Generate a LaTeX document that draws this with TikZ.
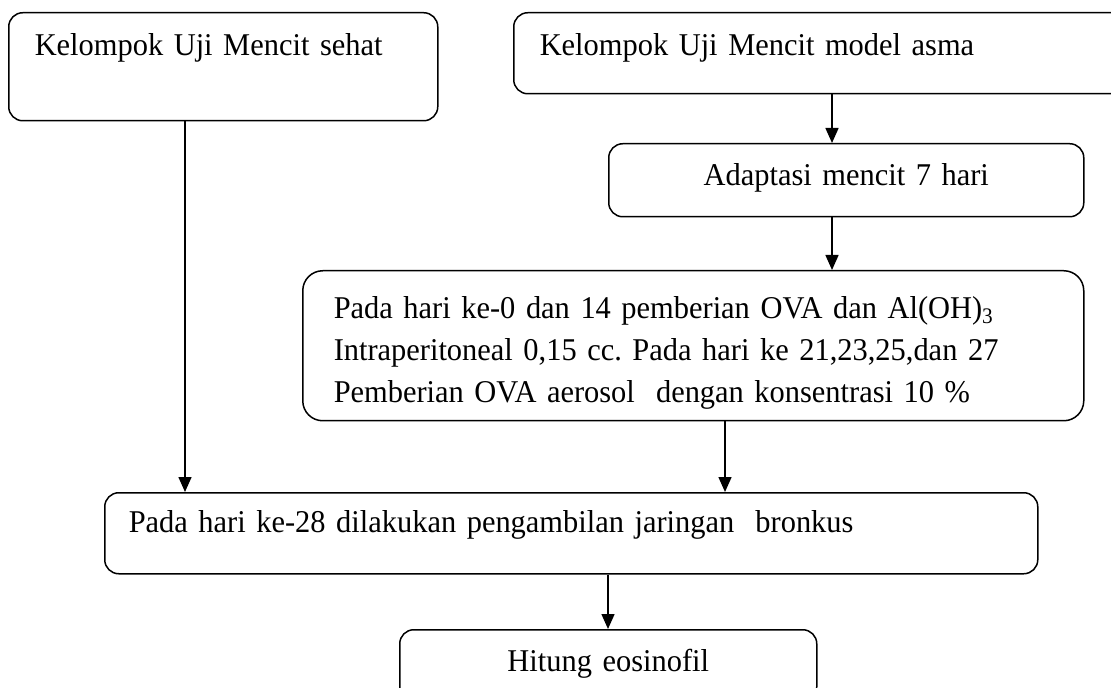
\documentclass[tikz,border=0pt]{standalone}
\usepackage{fontspec}
\setmainfont{Liberation Serif}[FakeStretch=0.96]
\frenchspacing
\usepackage{tikz}
\usetikzlibrary{arrows.meta}

\tikzset{
    kotak/.style={draw, line width=0.75pt, rounded corners=7pt, anchor=north west,
        inner ysep=0pt, inner xsep=13pt, font=\fontsize{15.85pt}{21pt}\selectfont},
    panah/.style={-{Triangle[width=6.5pt,length=7.5pt]}, line width=0.75pt}
}

\begin{document}
\begin{tikzpicture}[x=0.5pt, y=-0.5pt]
                \useasboundingbox (0,0) rectangle (1111,688);
                % kotak
                \node [kotak, text width=188.5pt, text height=21.5pt, text depth=32.5pt] (sehat) at (8,12) {Kelompok Uji Mencit sehat};
                \node [kotak, text width=280pt, text height=21.5pt, text depth=19pt] (asma) at (513,12) {Kelompok Uji Mencit model asma};
                \node [kotak, align=center, text width=211.5pt, text height=21pt, text depth=15.5pt] (adaptasi) at (608,143) {Adaptasi mencit 7 hari};
                \node [kotak, rounded corners=10pt, inner xsep=15.5pt, text width=359.5pt, text height=24pt, text depth=51pt] (ova) at (302,270)
                    {Pada hari ke-0 dan 14 pemberian OVA dan Al(OH)\textsubscript{3}\\
                     Intraperitoneal 0,15 cc. Pada hari ke 21,23,25,dan 27\\
                     Pemberian OVA aerosol\ \ dengan konsentrasi 10 \%};
                \node [kotak, inner xsep=12pt, text width=442.5pt, text height=20pt, text depth=20.5pt] (bronkus) at (104,492) {Pada hari ke-28 dilakukan pengambilan jaringan\ \ bronkus};
                \node [kotak, align=center, text width=182.5pt, text height=21pt, text depth=14.5pt] (hitung) at (399,629) {Hitung eosinofil};
                % jalur panah
                \coordinate (kiri) at (185,0);
                \coordinate (kanan) at (832,0);
                \coordinate (tengah) at (725,0);
                \coordinate (bawah) at (608,0);
                \draw [panah] (asma.south -| kanan) -- (adaptasi.north -| kanan);
                \draw [panah] (adaptasi.south -| kanan) -- (ova.north -| kanan);
                \draw [panah] (sehat.south -| kiri) -- (bronkus.north -| kiri);
                \draw [panah] (ova.south -| tengah) -- (bronkus.north -| tengah);
                \draw [panah] (bronkus.south -| bawah) -- (hitung.north -| bawah);
            \end{tikzpicture}
\end{document}
